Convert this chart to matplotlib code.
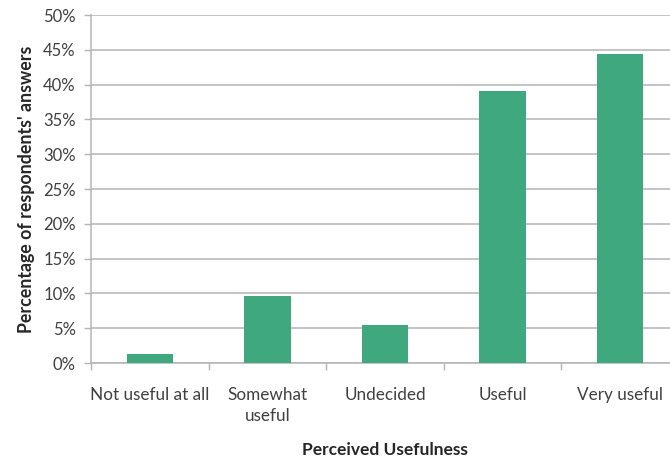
import numpy as np
import matplotlib
matplotlib.use("Agg")
import matplotlib.pyplot as plt
from matplotlib.ticker import FuncFormatter, FixedLocator

plt.rcParams['font.family'] = ['Lato', 'DejaVu Sans']

categories = ["Not useful at all", "Somewhat\nuseful", "Undecided", "Useful", "Very useful"]
shares = [1.35, 9.6, 5.5, 39.1, 44.4]   # percent of respondents
yticks = np.arange(0, 55, 5)

bar_color = '#3fa87f'
grid_color = '#b4b4b4'
text_color = '#404040'

fig = plt.figure(figsize=(6.7, 4.61), dpi=100)
# plot area runs a little past the right border
ax = fig.add_axes([91/670, 98/461, 588/670, 348/461])

x = np.arange(len(categories))
ax.bar(x, shares, width=0.395, color=bar_color, zorder=3)

ax.set_xlim(-0.5, len(categories) - 0.5)
ax.set_ylim(0, 50)
ax.set_yticks(yticks)
ax.yaxis.set_major_formatter(FuncFormatter(lambda v, p: f"{v:.0f}%"))
ax.yaxis.grid(True, color=grid_color, linewidth=1.1, zorder=0)

# category labels sit between the boundary ticks
ax.xaxis.set_major_locator(FixedLocator(np.arange(-0.5, len(categories), 1.0)))
ax.xaxis.set_major_formatter(FuncFormatter(lambda v, p: ""))
ax.set_xticks(x, minor=True)
ax.set_xticklabels(categories, minor=True, fontsize=12.3, color=text_color,
                   linespacing=1.45)
ax.tick_params(axis='x', which='minor', length=0, pad=17)
ax.tick_params(axis='x', which='major', length=5, color=grid_color, width=1)
ax.tick_params(axis='y', length=5, color=grid_color, width=1, labelsize=12,
               labelcolor=text_color, pad=6)

for side in ['top', 'right']:
    ax.spines[side].set_visible(False)
for side in ['left', 'bottom']:
    ax.spines[side].set_color(grid_color)
    ax.spines[side].set_linewidth(1.1)

fig.text(385/670, 1 - 450/461, "Perceived Usefulness", fontsize=12.5,
         fontweight='bold', color='#262626', ha='center', va='center')
ax.set_ylabel("Percentage of respondents' answers", fontsize=12.8,
              fontweight='bold', color='#262626', labelpad=6)

fig.savefig("out.png", dpi=100)
